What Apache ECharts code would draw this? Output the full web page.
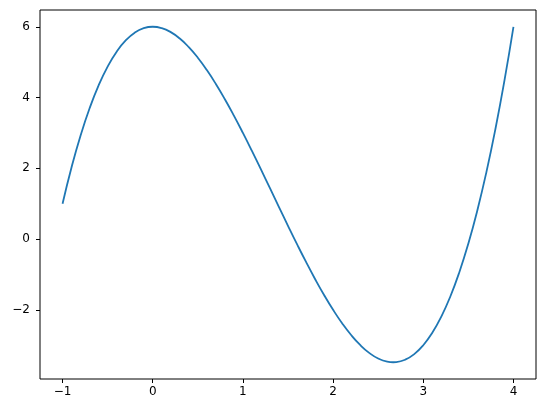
<!DOCTYPE html>
<html>
<head>
<meta charset="utf-8">
<script src="https://cdn.jsdelivr.net/npm/echarts@6/dist/echarts.min.js"></script>
<style>
html,body{margin:0;padding:0;background:#fff;}
#chart{width:546px;height:413px;}
</style>
</head>
<body>
<div id="chart"></div>
<script>
var xValues = [-1.0,-0.9,-0.8,-0.7,-0.6,-0.5,-0.4,-0.3,-0.2,-0.1,0.0,0.1,0.2,0.3,0.4,0.5,0.6,0.7,0.8,0.9,1.0,1.1,1.2,1.3,1.4,1.5,1.6,1.7,1.8,1.9,2.0,2.1,2.2,2.3,2.4,2.5,2.6,2.667,2.7,2.8,2.9,3.0,3.1,3.2,3.3,3.4,3.5,3.6,3.7,3.8,3.9,4.0];
var yValues = [1.0,2.031,2.928,3.697,4.344,4.875,5.296,5.613,5.832,5.959,6.0,5.961,5.848,5.667,5.424,5.125,4.776,4.383,3.952,3.489,3.0,2.491,1.968,1.437,0.904,0.375,-0.144,-0.647,-1.128,-1.581,-2.0,-2.379,-2.712,-2.993,-3.216,-3.375,-3.464,-3.481,-3.477,-3.408,-3.251,-3.0,-2.649,-2.192,-1.623,-0.936,-0.125,0.816,1.893,3.112,4.479,6.0];
var xTicks = [-1,0,1,2,3,4];
var yTicks = [-2,0,2,4,6];

var pts = xValues.map(function(x,i){return [x,yValues[i]];});
function fmt(v){ return String(v).replace('-', '\u2212'); }

var chart = echarts.init(document.getElementById('chart'), null, {renderer:'canvas'});
chart.setOption({
  animation:false,
  backgroundColor:'#ffffff',
  grid:{left:40,top:10,right:10,bottom:34,show:true,borderColor:'#000',borderWidth:1,backgroundColor:'transparent'},
  xAxis:{
    type:'value', min:-1.25, max:4.25,
    axisLine:{show:false,onZero:false},
    splitLine:{show:false},
    axisTick:{show:true,inside:false,length:4,lineStyle:{color:'#000',width:1},customValues:xTicks},
    axisLabel:{color:'#000',fontFamily:'DejaVu Sans',fontSize:12,margin:7,customValues:xTicks,formatter:fmt}
  },
  yAxis:{
    type:'value', min:-3.955, max:6.474,
    axisLine:{show:false,onZero:false},
    splitLine:{show:false},
    axisTick:{show:true,inside:false,length:4,lineStyle:{color:'#000',width:1},customValues:yTicks},
    axisLabel:{color:'#000',fontFamily:'DejaVu Sans',fontSize:12,margin:10,customValues:yTicks,formatter:fmt}
  },
  series:[{
    type:'line', data:pts, showSymbol:false, smooth:true,
    lineStyle:{color:'#1f77b4',width:1.8},
    itemStyle:{color:'#1f77b4'}
  }]
});
</script>
</body>
</html>
